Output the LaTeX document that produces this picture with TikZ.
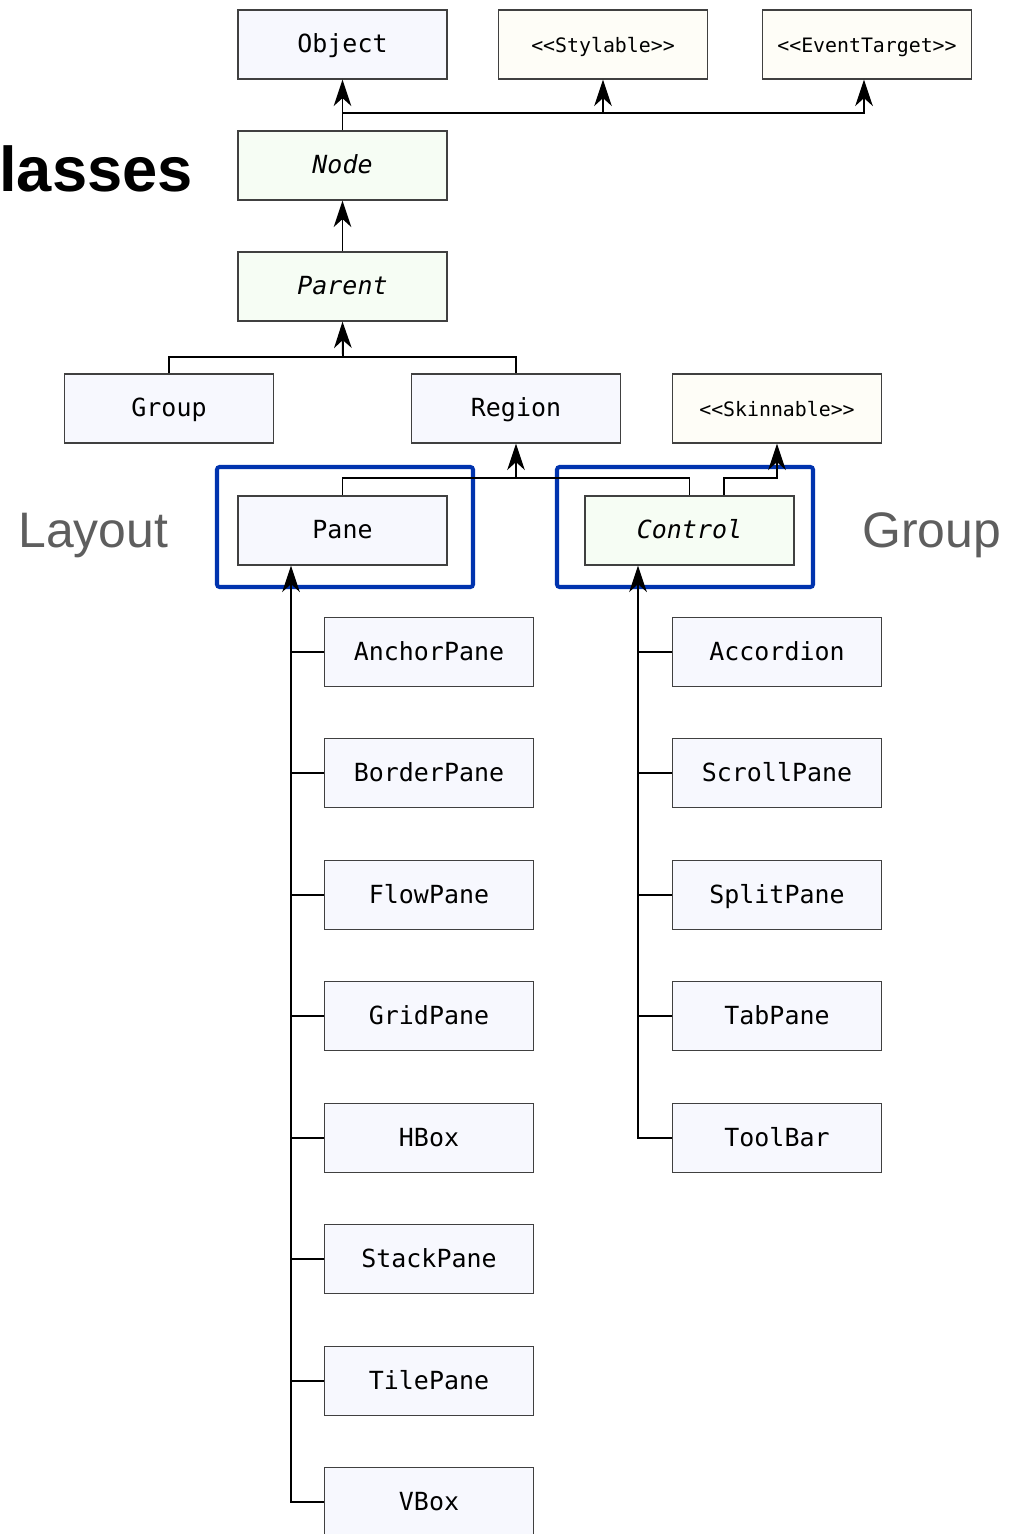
\documentclass[tikz,border=0pt]{standalone}
\usepackage{fontspec}
\setmonofont{DejaVu Sans Mono}
\setsansfont{Liberation Sans}
\usetikzlibrary{arrows.meta}

\definecolor{clsfill}{HTML}{F7F8FE}
\definecolor{absfill}{HTML}{F6FDF4}
\definecolor{ifcfill}{HTML}{FEFDF7}
\definecolor{frameblue}{HTML}{0033AE}

\begin{document}
\begin{tikzpicture}[
  x=0.02cm, y=-0.02cm,
  cls/.style={draw=black!75, line width=0.75pt, fill=clsfill, minimum width=4.18cm,
              minimum height=1.38cm, inner sep=0pt, text height=9.6pt, text depth=0pt,
              font=\ttfamily\fontsize{14.2}{17}\selectfont},
  abs/.style={cls, fill=absfill, font=\ttfamily\itshape\fontsize{14.2}{17}\selectfont},
  ifc/.style={cls, fill=ifcfill, font=\ttfamily\fontsize{11.3}{14}\selectfont},
  frame/.style={draw=frameblue, line width=2.3pt, rounded corners=1.5pt},
  lbl/.style={font=\sffamily\fontsize{28.4}{34}\selectfont, text=black!63, inner sep=0pt},
  ark/.style={-{Stealth[length=15pt, width=10pt, inset=4.5pt]}, line width=1.1pt},
  ln/.style={line width=1.1pt}
]
\useasboundingbox (0,0) rectangle (1009,1534);

% top of the hierarchy
\node[cls] (object) at (342.5,44.5) {Object};
\node[ifc] (stylable) at (603,44.5) {<<Stylable>>};
\node[ifc] (evtarget) at (867,44.5) {<<EventTarget>>};
\node[abs] (nodecls) at (342.5,165.5) {Node};
\node[abs] (parent) at (342.5,286.5) {Parent};
\node[cls] (group) at (169,408.5) {Group};
\node[cls] (region) at (516,408.5) {Region};
\node[ifc] (skinnable) at (777,408.5) {<<Skinnable>>};
\node[cls] (pane) at (342.5,530.5) {Pane};
\node[abs] (control) at (689.5,530.5) {Control};

% layout panes
\node[cls] (anchor) at (429,652) {AnchorPane};
\node[cls] (border) at (429,773) {BorderPane};
\node[cls] (flow) at (429,895) {FlowPane};
\node[cls] (grid) at (429,1016) {GridPane};
\node[cls] (hbox) at (429,1138) {HBox};
\node[cls] (stack) at (429,1259) {StackPane};
\node[cls] (tile) at (429,1381) {TilePane};
\node[cls] (vbox) at (429,1502) {VBox};

% controls
\node[cls] (accordion) at (777,652) {Accordion};
\node[cls] (scroll) at (777,773) {ScrollPane};
\node[cls] (split) at (777,895) {SplitPane};
\node[cls] (tab) at (777,1016) {TabPane};
\node[cls] (toolbar) at (777,1138) {ToolBar};

% headings
\node[font=\sffamily\bfseries\fontsize{36}{40}\selectfont, inner sep=0pt, anchor=base west] (classes) at (-1,192) {lasses};
\node[lbl, anchor=base west] (layoutlbl) at (18,547) {Layout};
\node[lbl, anchor=base west] (grouplbl) at (862,547) {Group};

% group frames
\draw[frame] (217,467) rectangle (473,587);
\draw[frame] (557,467) rectangle (813,587);

% inheritance
\coordinate (objbus) at (343,113);
\coordinate (parbus) at (343,357);
\coordinate (regbus) at (516,478);
\draw[ark] (nodecls.north) -- (object.south);
\draw[ark] (objbus) -| (stylable.south);
\draw[ark] (objbus) -| ([xshift=-0.06cm]evtarget.south);
\draw[ark] (parent.north) -- (nodecls.south);
\draw[ark] (parbus) -- (parent.south);
\draw[ln] (group.north) |- (parbus) -| (region.north);
\draw[ark] (regbus) -- (region.south);
\draw[ln] (pane.north) |- (regbus) -| (control.north);
\draw[ark] ([xshift=0.69cm]control.north) |- (skinnable.south |- regbus) -- (skinnable.south);

% trunks down to the subclasses
\draw[ark] (vbox.west) -| ([xshift=-1.03cm]pane.south);
\draw[ln] (anchor.west) -- ++(-34,0);
\draw[ln] (border.west) -- ++(-34,0);
\draw[ln] (flow.west) -- ++(-34,0);
\draw[ln] (grid.west) -- ++(-34,0);
\draw[ln] (hbox.west) -- ++(-34,0);
\draw[ln] (stack.west) -- ++(-34,0);
\draw[ln] (tile.west) -- ++(-34,0);
\draw[ark] (toolbar.west) -| ([xshift=-1.03cm]control.south);
\draw[ln] (accordion.west) -- ++(-35,0);
\draw[ln] (scroll.west) -- ++(-35,0);
\draw[ln] (split.west) -- ++(-35,0);
\draw[ln] (tab.west) -- ++(-35,0);
\end{tikzpicture}
\end{document}
